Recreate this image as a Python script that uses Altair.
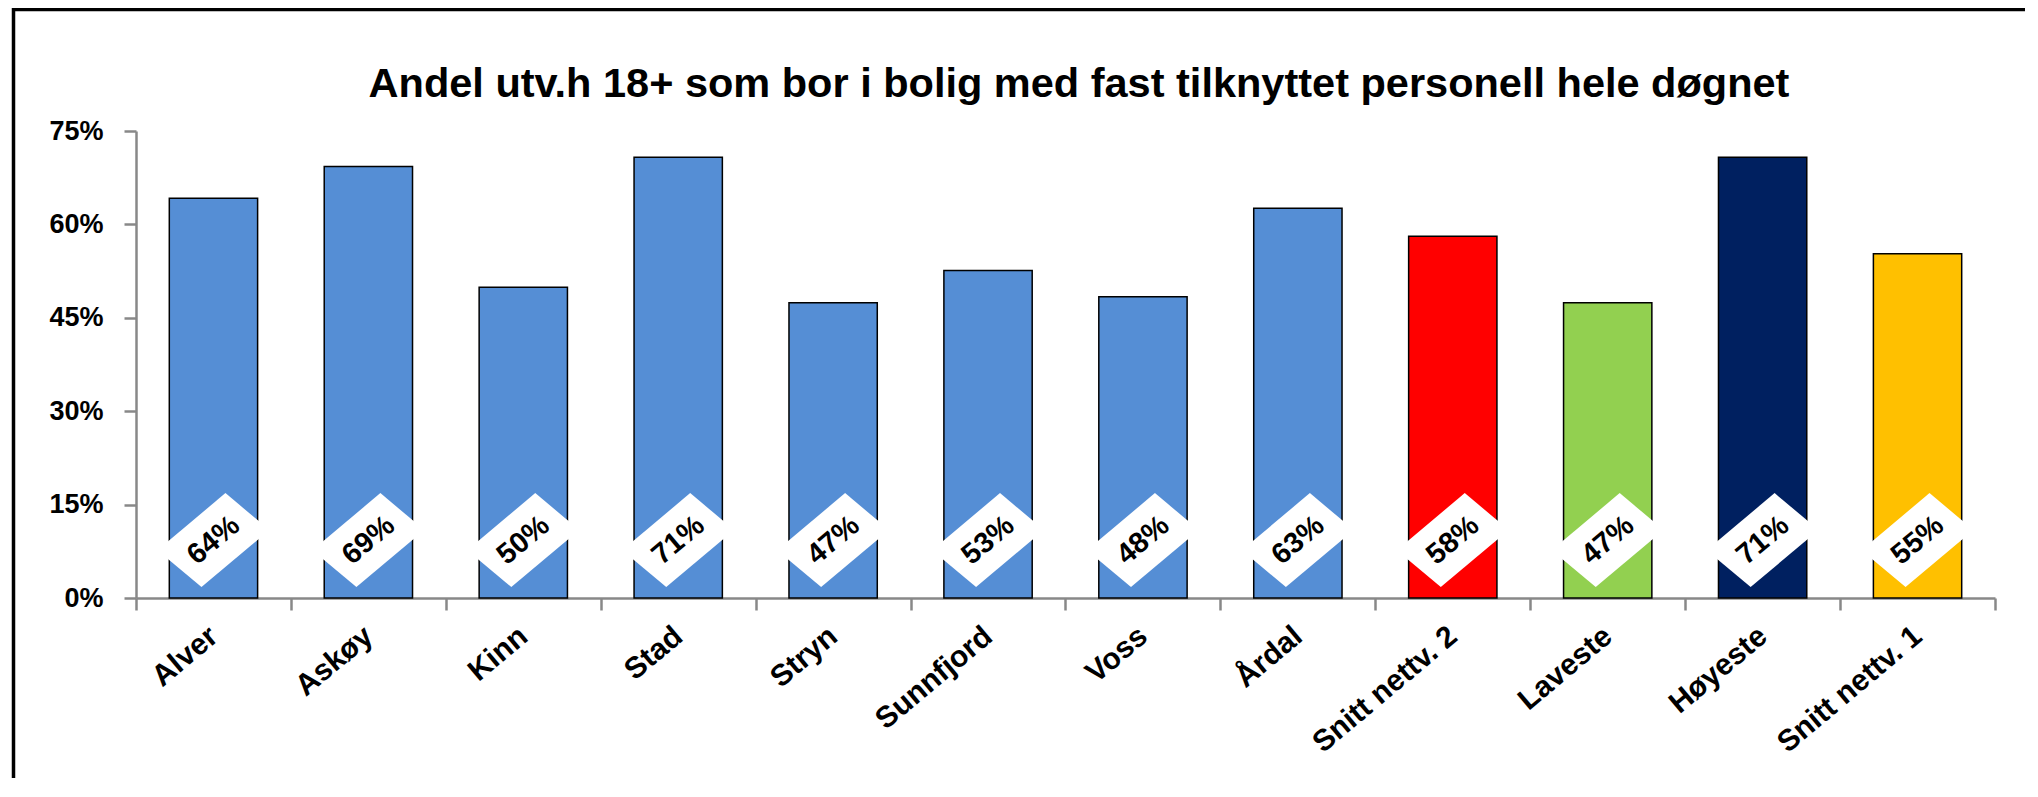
import altair as alt
import pandas as pd

categories = ["Alver", "Askøy", "Kinn", "Stad", "Stryn", "Sunnfjord", "Voss",
              "Årdal", "Snitt nettv. 2", "Laveste", "Høyeste", "Snitt nettv. 1"]
values = [0.642, 0.693, 0.499, 0.708, 0.474, 0.526, 0.484, 0.626, 0.581, 0.474, 0.708, 0.553]
bar_colors = ["#558ED5", "#558ED5", "#558ED5", "#558ED5", "#558ED5", "#558ED5", "#558ED5",
              "#558ED5", "#FF0000", "#92D050", "#002060", "#FFC000"]
y_ticks = [0, 0.15, 0.30, 0.45, 0.60, 0.75]
title_text = "Andel utv.h 18+ som bor i bolig med fast tilknyttet personell hele døgnet"

df = pd.DataFrame({"kommune": categories, "andel": values})
title_df = pd.DataFrame({"t": [title_text]})

FONT = "Liberation Sans"
AXIS_GREY = "#888888"
W, H = 1859, 467
PAD_RIGHT = 30
LABEL_LEVEL = 0.093

x_enc = alt.X(
    "kommune:N",
    sort=categories,
    scale=alt.Scale(paddingInner=0, paddingOuter=0),
    axis=alt.Axis(
        title=None, labelAngle=320, labelAlign="right", labelBaseline="middle",
        labelFont=FONT, labelFontWeight="bold", labelFontSize=30, labelColor="black",
        labelPadding=22, tickSize=12, tickColor=AXIS_GREY, tickWidth=2.5,
        domainColor=AXIS_GREY, domainWidth=2.5, tickBand="extent",
        labelOverlap=False, labelLimit=0,
    ),
)

base = alt.Chart(df)
one = alt.Chart(title_df)

frame_top = one.mark_rule(stroke="black", strokeWidth=3.5).encode(
    x=alt.value(-124), x2=alt.value(W + PAD_RIGHT), y=alt.value(-121.5),
)
frame_left = one.mark_rule(stroke="black", strokeWidth=3.5).encode(
    x=alt.value(-122.5), y=alt.value(-123), y2=alt.value(H + 180),
)

bars = base.mark_bar(stroke="black", strokeWidth=1.5, width=alt.RelativeBandSize(0.57)).encode(
    x=x_enc,
    y=alt.Y(
        "andel:Q",
        scale=alt.Scale(domain=[0, 0.75], nice=False),
        axis=alt.Axis(
            title=None, values=y_ticks, format=".0%", grid=False,
            labelFont=FONT, labelFontWeight="bold", labelFontSize=27, labelColor="black",
            labelPadding=21, tickSize=12, tickColor=AXIS_GREY, tickWidth=2.5,
            domainColor=AXIS_GREY, domainWidth=2.5,
        ),
    ),
    color=alt.Color("kommune:N", scale=alt.Scale(domain=categories, range=bar_colors), legend=None),
)

diamonds = base.mark_point(
    shape="M 0.214 -0.839 L 1 -0.18 L -0.214 0.839 L -1 0.18 Z",
    size=12544, filled=True, fill="white", opacity=1, strokeWidth=0,
).encode(
    x=alt.X("kommune:N", sort=categories),
    y=alt.Y(datum=LABEL_LEVEL, type="quantitative"),
)

labels = base.mark_text(
    angle=320, font=FONT, fontWeight="bold", fontSize=29, color="black",
    align="center", baseline="middle",
).encode(
    x=alt.X("kommune:N", sort=categories),
    y=alt.Y(datum=LABEL_LEVEL, type="quantitative"),
    text=alt.Text("andel:Q", format=".0%"),
)

title = one.mark_text(
    font=FONT, fontWeight="bold", fontSize=41.5, color="black",
    align="center", baseline="alphabetic",
).encode(
    x=alt.value(W / 2 + 13.5), y=alt.value(-34), text="t:N",
)

chart = alt.layer(frame_top, frame_left, bars, diamonds, labels, title).properties(
    width=W, height=H,
    padding={"left": 128, "top": 123, "right": PAD_RIGHT, "bottom": 180},
    autosize=alt.AutoSizeParams(type="none"),
).configure(background="white", view=alt.ViewConfig(stroke=None))

chart.save("out.html", embed_options={"renderer": "svg", "actions": False})
